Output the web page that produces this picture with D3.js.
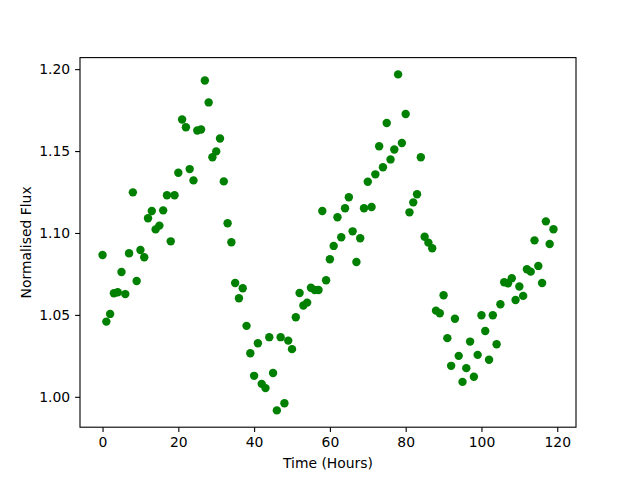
<!DOCTYPE html>
<html>
<head>
<meta charset="utf-8">
<script src="https://cdn.jsdelivr.net/npm/d3@7"></script>
<style>
  body { margin: 0; background: #fff; }
  svg { display: block; font-family: "DejaVu Sans", sans-serif; }
</style>
</head>
<body>
<div id="chart"></div>
<script>
// hours since start
const hours = d3.range(0, 120)
const flux = [
  1.0866, 1.0459, 1.0506, 1.0632, 1.0638, 1.0762, 1.0627, 1.0876, 1.1248, 1.0707,
  1.0896, 1.0852, 1.1090, 1.1134, 1.1022, 1.1045, 1.1138, 1.1230, 1.0949, 1.1230,
  1.1368, 1.1693, 1.1645, 1.1390, 1.1321, 1.1626, 1.1632, 1.1931, 1.1797, 1.1462,
  1.1498, 1.1577, 1.1315, 1.1059, 1.0943, 1.0695, 1.0602, 1.0663, 1.0433, 1.0266,
  1.0128, 1.0327, 1.0079, 1.0053, 1.0364, 1.0145, 0.9917, 1.0364, 0.9961, 1.0343,
  1.0291, 1.0486, 1.0634, 1.0557, 1.0575, 1.0666, 1.0652, 1.0652, 1.1134, 1.0711,
  1.0840, 1.0921, 1.1096, 1.0974, 1.1151, 1.1218, 1.1010, 1.0823, 1.0968, 1.1151,
  1.1313, 1.1159, 1.1358, 1.1529, 1.1401, 1.1671, 1.1449, 1.1510, 1.1968, 1.1549,
  1.1726, 1.1126, 1.1187, 1.1236, 1.1462, 1.0977, 1.0941, 1.0907, 1.0526, 1.0510,
  1.0620, 1.0358, 1.0189, 1.0476, 1.0250, 1.0091, 1.0175, 1.0337, 1.0122, 1.0256,
  1.0498, 1.0402, 1.0226, 1.0498, 1.0321, 1.0565, 1.0699, 1.0693, 1.0724, 1.0591,
  1.0673, 1.0616, 1.0779, 1.0764, 1.0955, 1.0799, 1.0695, 1.1071, 1.0933, 1.1023
]
const xTicks = [0, 20, 40, 60, 80, 100, 120]
const yTicks = [1.00, 1.05, 1.10, 1.15, 1.20]

const MARGIN = { TOP: 57.6, BOTTOM: 52.8, LEFT: 80, RIGHT: 64 }
const WIDTH = 640 - MARGIN.LEFT - MARGIN.RIGHT
const HEIGHT = 480 - MARGIN.TOP - MARGIN.BOTTOM

const svg = d3.select("#chart").append("svg")
  .attr("width", 640)
  .attr("height", 480)

const g = svg.append("g")
  .attr("transform", `translate(${MARGIN.LEFT}, ${MARGIN.TOP})`)

// matplotlib style 5% padding
const xPad = (d3.max(hours) - d3.min(hours)) * 0.05
const yPad = (d3.max(flux) - d3.min(flux)) * 0.05

const x = d3.scaleLinear()
  .domain([d3.min(hours) - xPad, d3.max(hours) + xPad])
  .range([0, WIDTH])

const y = d3.scaleLinear()
  .domain([d3.min(flux) - yPad, d3.max(flux) + yPad])
  .range([HEIGHT, 0])

const xAxis = g.append("g")
  .attr("transform", `translate(0, ${HEIGHT})`)
  .call(d3.axisBottom(x).tickValues(xTicks).tickSize(4.9).tickPadding(4.9).tickFormat(d3.format("d")))

const yAxis = g.append("g")
  .call(d3.axisLeft(y).tickValues(yTicks).tickSize(4.9).tickPadding(4.9).tickFormat(d3.format(".2f")))

for (const ax of [xAxis, yAxis]) {
  ax.select(".domain").remove()
  ax.selectAll("text").attr("font-size", "13.9px").attr("fill", "#000")
    .attr("font-family", "DejaVu Sans, sans-serif")
  ax.selectAll("line").attr("stroke", "#000").attr("stroke-width", 1.1)
}

// points
g.selectAll("circle")
  .data(hours)
  .enter().append("circle")
    .attr("cx", (d, i) => x(d))
    .attr("cy", (d, i) => y(flux[i]))
    .attr("r", 4.2)
    .attr("fill", "#008000")

// frame
g.append("rect")
  .attr("width", WIDTH)
  .attr("height", HEIGHT)
  .attr("fill", "none")
  .attr("stroke", "#000")
  .attr("stroke-width", 1.1)

g.append("text")
  .attr("x", WIDTH / 2)
  .attr("y", HEIGHT + 41)
  .attr("text-anchor", "middle")
  .attr("font-size", "13.9px")
  .text("Time (Hours)")

g.append("text")
  .attr("transform", "rotate(-90)")
  .attr("x", -HEIGHT / 2)
  .attr("y", -49)
  .attr("text-anchor", "middle")
  .attr("font-size", "13.9px")
  .text("Normalised Flux")
</script>
</body>
</html>
